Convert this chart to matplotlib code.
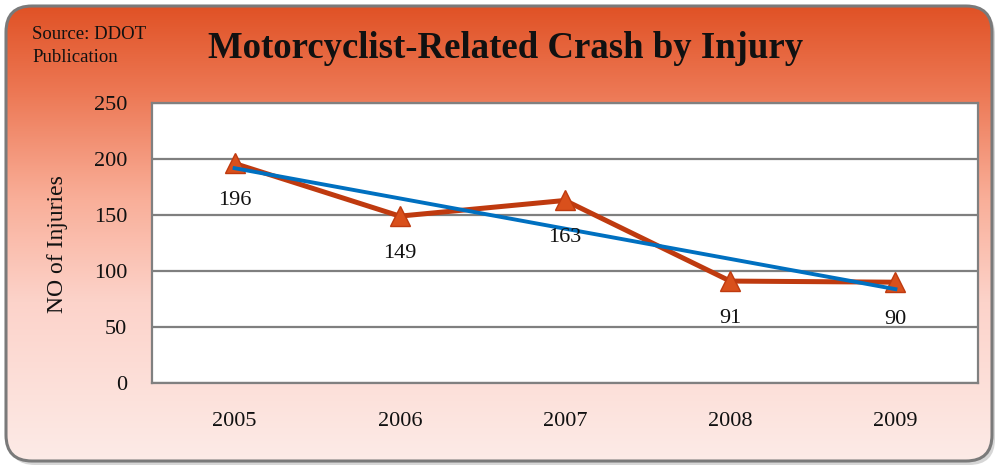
import numpy as np
import matplotlib
matplotlib.use("Agg")
import matplotlib.pyplot as plt
from matplotlib.patches import FancyBboxPatch
from matplotlib.colors import LinearSegmentedColormap

years = ["2005", "2006", "2007", "2008", "2009"]
injuries = [196, 149, 163, 91, 90]
yticks = [0, 50, 100, 150, 200, 250]

title = "Motorcyclist-Related Crash by Injury"
source = "Source: DDOT\nPublication"
ylabel = "NO of Injuries"

W, H = 997, 467
fig = plt.figure(figsize=(W / 100, H / 100), dpi=100, facecolor="white")
serif = ["Liberation Serif", "DejaVu Serif"]

# background panel with gradient
bg = fig.add_axes([0, 0, 1, 1])
bg.set_xlim(0, W)
bg.set_ylim(H, 0)
bg.axis("off")
cmap = LinearSegmentedColormap.from_list(
    "bg",
    [(0.0, "#E05226"), (0.18, "#EC7652"), (0.42, "#F9AE98"),
     (0.65, "#FCD3CA"), (1.0, "#FDEBE7")])
grad = np.linspace(0, 1, 256).reshape(-1, 1)
im = bg.imshow(grad, cmap=cmap, aspect="auto", extent=[6, 992, 462, 6], zorder=1)
# shadow
shadow = FancyBboxPatch((9, 9), 986, 456, boxstyle="round,pad=0,rounding_size=26",
                        facecolor="#BBBBBB", edgecolor="none", zorder=0, alpha=0.6)
bg.add_patch(shadow)
panel = FancyBboxPatch((6, 6), 986, 455, boxstyle="round,pad=0,rounding_size=26",
                       facecolor="none", edgecolor="#7A7A7A", linewidth=2.2, zorder=3)
bg.add_patch(panel)
clip = FancyBboxPatch((6, 6), 986, 455, boxstyle="round,pad=0,rounding_size=26",
                      facecolor="none", edgecolor="none", transform=bg.transData)
im.set_clip_path(clip)

bg.text(32, 46, source, fontsize=13.5, family=serif, color="#111111",
        va="center", ha="left", linespacing=1.5, zorder=4)
bg.text(506, 49, title, fontsize=26.5, family=serif, fontweight="bold",
        color="#111111", ha="center", va="center", zorder=4)
bg.text(57, 244, ylabel, fontsize=17, family=serif, color="#111111",
        rotation=90, ha="center", va="center", zorder=4)

# main plot
ax = fig.add_axes([152 / W, (H - 383) / H, 826 / W, 280 / H])
ax.set_facecolor("white")
x = np.arange(len(years))
ax.set_xlim(-0.5, len(years) - 0.5)
ax.set_ylim(0, 250)
ax.set_yticks(yticks)
ax.set_xticks(x)
ax.set_xticklabels(years)
ax.yaxis.grid(True, color="#7F7F7F", linewidth=1.6)
ax.set_axisbelow(True)
for s in ax.spines.values():
    s.set_color("#808080")
    s.set_linewidth(1.6)
ax.tick_params(axis="both", length=0, labelsize=16, colors="#111111")
ax.tick_params(axis="y", pad=18)
ax.tick_params(axis="x", pad=21)
for lbl in ax.get_xticklabels() + ax.get_yticklabels():
    lbl.set_family(serif)

ax.plot(x, injuries, color="#BF3A0F", linewidth=3.6, marker="^", markersize=14,
        markerfacecolor="#D9501C", markeredgecolor="#BF3A0F", markeredgewidth=1,
        zorder=3, clip_on=False)
coef = np.polyfit(x, injuries, 1)
ax.plot(x, np.polyval(coef, x), color="#0070C0", linewidth=2.8, zorder=4)

for xi, v in zip(x, injuries):
    ax.annotate(str(v), (xi, v), xytext=(0, -37), textcoords="offset pixels",
                ha="center", va="center", fontsize=16, family=serif,
                color="#111111", zorder=5)

fig.savefig("out.png", dpi=100, facecolor="white")
